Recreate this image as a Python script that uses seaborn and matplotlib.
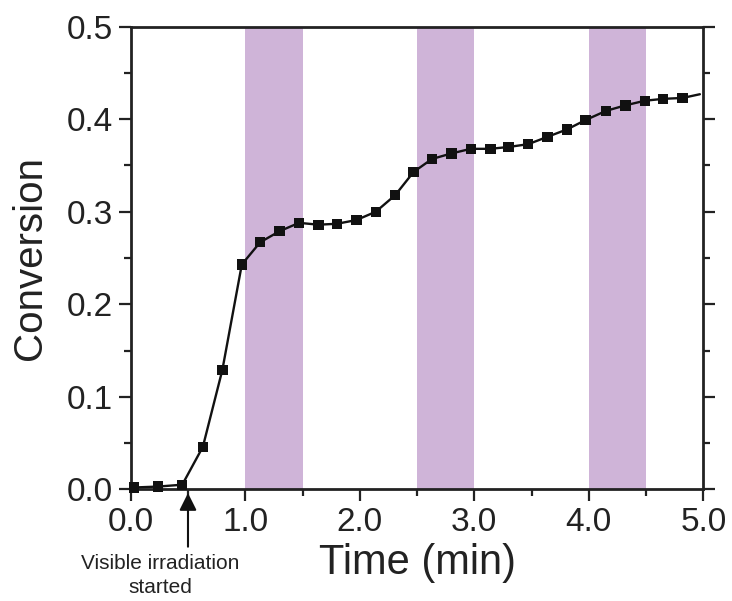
import matplotlib
matplotlib.use("Agg")
import matplotlib.pyplot as plt
from matplotlib.ticker import MultipleLocator, FormatStrFormatter
import seaborn as sns
import pandas as pd

# Measured conversion vs. irradiation time
time_min = [0.03, 0.24, 0.45, 0.63, 0.80, 0.97, 1.13, 1.30, 1.47, 1.64,
            1.80, 1.97, 2.14, 2.31, 2.47, 2.63, 2.80, 2.97, 3.14, 3.30,
            3.47, 3.64, 3.81, 3.97, 4.15, 4.32, 4.49, 4.65, 4.82]
conversion = [0.002, 0.003, 0.005, 0.046, 0.129, 0.243, 0.267, 0.279, 0.288, 0.286,
              0.287, 0.291, 0.300, 0.318, 0.343, 0.357, 0.363, 0.368, 0.368, 0.370,
              0.373, 0.381, 0.389, 0.399, 0.409, 0.415, 0.420, 0.422, 0.423]
# the guide line runs on a little past the last measurement
line_tail_time = [4.97]
line_tail_conv = [0.427]

# periods with the light switched off
dark_start = [1.0, 2.5, 4.0]
dark_end = [1.5, 3.0, 4.5]

x_ticks = [0.0, 1.0, 2.0, 3.0, 4.0, 5.0]
y_ticks = [0.0, 0.1, 0.2, 0.3, 0.4, 0.5]

sns.set_style("ticks")
plt.rcParams["font.family"] = ["Liberation Sans", "DejaVu Sans"]
plt.rcParams["axes.linewidth"] = 2.0
plt.rcParams["xtick.direction"] = "out"
plt.rcParams["ytick.direction"] = "out"

df = pd.DataFrame({"time": time_min, "conv": conversion})
df_line = pd.DataFrame({"time": time_min + line_tail_time,
                        "conv": conversion + line_tail_conv})

fig = plt.figure(figsize=(7.32, 6.01), dpi=100)
ax = fig.add_axes([0.1786, 0.1858, 0.7822, 0.7698])

for s, e in zip(dark_start, dark_end):
    ax.axvspan(s, e, color="#cfb4d8", lw=0, zorder=0)

sns.lineplot(data=df_line, x="time", y="conv", ax=ax, color="#111111",
             lw=1.7, sort=False, estimator=None, zorder=3)
sns.scatterplot(data=df, x="time", y="conv", ax=ax, marker="s", s=56,
                color="#111111", edgecolor="none", zorder=4, clip_on=False)

ax.set_xlim(0, 5)
ax.set_ylim(0, 0.5)
ax.set_xticks(x_ticks)
ax.set_yticks(y_ticks)
ax.xaxis.set_minor_locator(MultipleLocator(0.5))
ax.yaxis.set_minor_locator(MultipleLocator(0.05))
ax.xaxis.set_major_formatter(FormatStrFormatter("%.1f"))
ax.yaxis.set_major_formatter(FormatStrFormatter("%.1f"))

ax.tick_params(which="major", length=8.5, width=1.6, labelsize=24,
               colors="#222222", pad=4)
ax.tick_params(which="minor", length=5, width=1.6, colors="#222222")
ax.tick_params(which="both", right=True, labelright=False, top=False)

for sp in ax.spines.values():
    sp.set_visible(True)
    sp.set_color("#222222")

ax.set_xlabel("Time (min)", fontsize=30, color="#222222", labelpad=4)
ax.set_ylabel("Conversion", fontsize=29, color="#222222", labelpad=13)

# marker for the moment the visible light was switched on
ax.annotate("", xy=(0.5, -0.004), xytext=(0.5, -0.062),
            xycoords="data", textcoords="data", annotation_clip=False,
            arrowprops=dict(arrowstyle="-|>", mutation_scale=26, lw=1.5,
                            color="#111111", shrinkA=0, shrinkB=0))
ax.text(0.26, -0.093, "Visible irradiation\nstarted", ha="center", va="center",
        fontsize=15, color="#222222", linespacing=1.35, clip_on=False)

fig.savefig("out.png", dpi=100)
